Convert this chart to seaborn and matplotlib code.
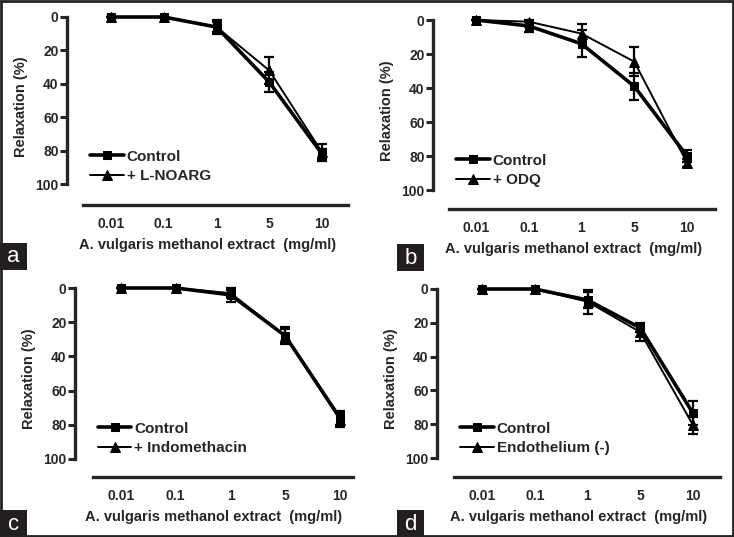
import numpy as np
import pandas as pd
import matplotlib
matplotlib.use("Agg")
import matplotlib.pyplot as plt
from matplotlib.patches import Rectangle
import seaborn as sns

# data
x_labels = ["0.01", "0.1", "1", "5", "10"]

a_control = [0, 0, 6, 39, 82]
a_control_err = [0, 0, 4, 6, 3]
a_treat = [0, 0, 6, 32, 81]
a_treat_err = [0, 0, 3, 8, 5]

b_control = [0, 3.5, 14, 39, 80]
b_control_err = [0, 3.5, 8, 8, 3.5]
b_treat = [0, 1, 8, 24.5, 84]
b_treat_err = [0, 0, 5.5, 8.5, 2.5]

c_control = [0, 0, 4, 28, 76]
c_control_err = [0, 0, 4, 5, 4]
c_treat = [0, 0, 3, 28, 77]
c_treat_err = [0, 0, 2, 4, 4]

d_control = [0, 0, 6.5, 23, 73.5]
d_control_err = [0, 0, 4.5, 2.5, 7]
d_treat = [0, 0, 7.5, 25.5, 80.5]
d_treat_err = [0, 0, 7, 5.5, 5.5]

treat_names = ["+ L-NOARG", "+ ODQ", "+ Indomethacin", "Endothelium (-)"]
panel_letters = ["a", "b", "c", "d"]

sns.set_style("ticks")
plt.rcParams["font.family"] = ["Liberation Sans", "DejaVu Sans"]
plt.rcParams["font.weight"] = "bold"

W, H = 734, 537
fig = plt.figure(figsize=(W / 100, H / 100), dpi=100)

# pixel geometry of each panel: y-axis x, y(0), y(100), x-axis y, x-line start/end, first point x, spacing
geom = [
    (67, 17, 184, 205, 83, 348, 111, 52.75),
    (433, 20, 190, 209, 449, 715, 476, 52.75),
    (75, 288, 459, 477, 93, 353, 121, 54.75),
    (437, 289, 458, 477, 454, 720, 482, 52.75),
]
label_boxes = [(0, 243), (397, 244), (0, 510), (397, 510)]

panels = [
    (a_control, a_control_err, a_treat, a_treat_err),
    (b_control, b_control_err, b_treat, b_treat_err),
    (c_control, c_control_err, c_treat, c_treat_err),
    (d_control, d_control_err, d_treat, d_treat_err),
]

for i, (ctl, ctl_err, trt, trt_err) in enumerate(panels):
    yx, y0, y100, xay, xs, xe, px0, dx = geom[i]
    s = (y100 - y0) / 100
    top_px = y0 - 5 * s
    ax = fig.add_axes([yx / W, 1 - xay / H, (xe - yx) / W, (xay - top_px) / H])
    pos = np.arange(len(x_labels))

    df = pd.DataFrame({
        "pos": np.concatenate([pos, pos]),
        "value": ctl + trt,
        "group": ["Control"] * len(pos) + [treat_names[i]] * len(pos),
    })
    sns.lineplot(data=df[df.group == "Control"], x="pos", y="value", color="black",
                 lw=2.6, marker="s", markersize=6, markeredgecolor="black",
                 label="Control", ax=ax)
    sns.lineplot(data=df[df.group != "Control"], x="pos", y="value", color="black",
                 lw=1.4, marker="^", markersize=6.5, markeredgecolor="black",
                 label=treat_names[i], ax=ax)
    ax.errorbar(pos, ctl, yerr=ctl_err, fmt="none", ecolor="black", elinewidth=1.6,
                capsize=3.5, capthick=1.6)
    ax.errorbar(pos, trt, yerr=trt_err, fmt="none", ecolor="black", elinewidth=1.6,
                capsize=3.5, capthick=1.6)

    ax.set_xlim((yx - px0) / dx, (xe - px0) / dx)
    ax.set_ylim((xay - y0) / s, -5)
    ax.set_xticks(pos)
    ax.set_xticklabels(x_labels, fontsize=10, fontweight="bold")
    ax.set_yticks([0, 20, 40, 60, 80, 100])
    ax.set_yticklabels(["0", "20", "40", "60", "80", "100"], fontsize=10, fontweight="bold")
    ax.tick_params(axis="x", length=0, pad=9)
    ax.tick_params(axis="y", length=5, width=2.2, pad=1)
    sns.despine(ax=ax)
    ax.spines["left"].set_linewidth(2.4)
    ax.spines["bottom"].set_linewidth(2.4)
    ax.spines["left"].set_bounds(0, 100)
    ax.spines["bottom"].set_bounds((xs - px0) / dx, (xe - px0) / dx)
    ax.set_xlabel("A. vulgaris methanol extract  (mg/ml)", fontsize=10.5,
                  fontweight="bold", labelpad=5)
    ax.set_ylabel("Relaxation (%)", fontsize=10.5, fontweight="bold", labelpad=5)
    ax.legend(loc="lower left", bbox_to_anchor=(0.06, 0.08), frameon=False,
              handlelength=2.2, handletextpad=0.2, labelspacing=0.35,
              borderaxespad=0, prop={"weight": "bold", "size": 11})

    bx, by = label_boxes[i]
    fig.patches.append(Rectangle((bx / W, 1 - (by + 27) / H), 27 / W, 27 / H,
                                 transform=fig.transFigure, facecolor="#231f20",
                                 edgecolor="none"))
    fig.text((bx + 13.5) / W, 1 - (by + 14) / H, panel_letters[i], color="white",
             fontsize=16, fontweight="normal", ha="center", va="center")

fig.patches.append(Rectangle((0.001, 0.002), 0.997, 0.996, transform=fig.transFigure,
                             facecolor="none", edgecolor="#222222", lw=2))

fig.savefig("out.png", dpi=100)
